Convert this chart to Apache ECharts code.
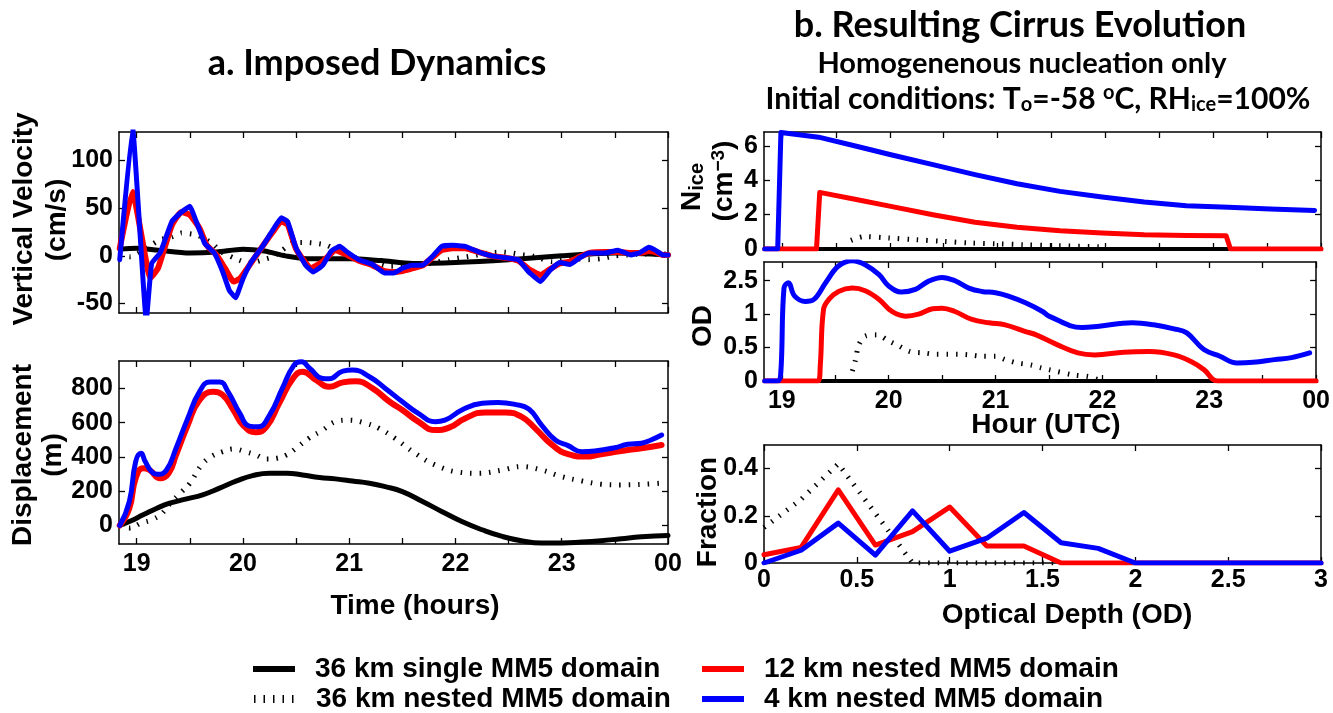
<!DOCTYPE html>
<html><head><meta charset="utf-8">
<script src="https://cdn.jsdelivr.net/npm/echarts@6/dist/echarts.min.js"></script>
<style>html,body{margin:0;padding:0;background:#fff;}#c{width:1333px;height:713px;}</style>
</head><body><div id="c"></div>
<script>
// ---------------- DATA ----------------
const hourTicks = [19, 20, 21, 22, 23, 24];
const hourLabels = ['19', '20', '21', '22', '23', '00'];
const halfHourTicks = [19, 19.5, 20, 20.5, 21, 21.5, 22, 22.5, 23, 23.5, 24];
const velTicks = [-50, 0, 50, 100];
const dispTicks = [0, 200, 400, 600, 800];
const niceTicks = [0, 2, 4, 6];
const odYTicks = [0, 0.5, 1, 1.5];
const odYLabels = ['0', '0.5', '1', '2.5'];
const fracYTicks = [0, 0.2, 0.4];
const fracXTicks = [0, 0.5, 1, 1.5, 2, 2.5, 3];
const fracXLabels = ['0', '0.5', '1', '1.5', '2', '2.5', '3'];

const names = ['36 km single MM5 domain', '36 km nested MM5 domain', '12 km nested MM5 domain', '4 km nested MM5 domain'];

// Vertical velocity (cm/s)
const velBlackT = [18.84,19.0,19.2,19.5,19.75,20.0,20.2,20.4,20.6,21.0,21.3,21.6,22.0,22.5,23.0,23.5,24.0];
const velBlack  = [7,8,6,3,4,7,5,0,-3,-3,-5,-8,-7,-4,0,3,1];
const velDotT = [18.84,18.94,19.13,19.22,19.33,19.42,19.56,19.64,19.72,19.8,19.91,20.0,20.09,20.19,20.28,20.37,20.48,20.59,20.7,20.79,20.94,21.09,21.25,21.38,21.47,21.75,21.94,22.05,22.16,22.31,22.44,22.53,22.63,22.72,22.91,23.0,23.12,23.25,23.37,23.5,23.62,23.75,23.87,24.0];
const velDot  = [0,-1,11,17,20,24,22,18,12,4,-2,-6,-7,-4,-1,6,14,14,13,11,3,-3,-7,-11,-11,-8,-4,-2,0,3,4,3,1,0,-6,-4,-3,-4,-3,0,1,2,2,2];
const velRedT = [18.84,18.96,19.13,19.2,19.33,19.42,19.5,19.59,19.66,19.75,19.83,19.91,19.97,20.06,20.19,20.28,20.36,20.42,20.5,20.64,20.75,20.87,20.98,21.09,21.22,21.33,21.42,21.5,21.6,21.69,21.78,21.87,21.97,22.09,22.22,22.34,22.47,22.59,22.69,22.8,22.89,22.98,23.08,23.17,23.26,23.41,23.53,23.65,23.73,23.82,23.88,23.95,24.0];
const velRed  = [8,67,-23,-13,32,46,43,29,11,1,-13,-27,-24,-10,11,25,36,33,7,-13,-6,6,1,-5,-10,-16,-17,-16,-13,-10,-2,6,8,8,4,0,-2,-5,-14,-20,-14,-8,-6,-1,3,4,4,3,3,5,4,1,1];
const velBlueT = [18.84,18.96,19.09,19.14,19.22,19.33,19.41,19.5,19.56,19.64,19.73,19.81,19.87,19.93,20.0,20.08,20.19,20.28,20.36,20.42,20.5,20.59,20.66,20.75,20.83,20.91,20.98,21.09,21.22,21.33,21.42,21.5,21.59,21.69,21.78,21.87,21.97,22.09,22.22,22.34,22.47,22.59,22.69,22.8,22.89,22.98,23.08,23.17,23.26,23.41,23.53,23.65,23.73,23.82,23.88,23.95,24.0];
const velBlue  = [-4,135,-68,-8,3,36,45,52,36,13,3,-17,-36,-44,-24,-6,11,27,40,36,8,-10,-17,-10,5,10,4,-4,-9,-18,-18,-13,-10,-10,-1,10,11,10,4,0,-2,-4,-17,-27,-15,-7,-9,-2,3,3,6,1,3,9,6,1,1];

// Displacement (m)
const dispBlackT = [18.84,18.93,19.06,19.19,19.31,19.47,19.62,19.78,19.94,20.09,20.25,20.41,20.56,20.72,20.87,21.03,21.19,21.34,21.5,21.69,21.87,22.06,22.25,22.44,22.62,22.81,23.0,23.19,23.37,23.56,23.75,24.0];
const dispBlack  = [0,23,62,101,130,155,179,218,260,291,305,305,295,280,272,260,247,227,198,140,82,23,-25,-64,-89,-102,-102,-97,-89,-77,-66,-58];
const dispDotT = [18.84,18.93,19.04,19.14,19.23,19.33,19.41,19.5,19.61,19.7,19.81,19.91,20.02,20.12,20.22,20.31,20.41,20.5,20.62,20.75,20.87,21.0,21.16,21.28,21.43,21.62,21.81,22.03,22.22,22.44,22.62,22.81,23.0,23.19,23.37,23.56,23.78,23.94];
const dispDot  = [0,-15,14,33,66,140,189,247,353,402,431,447,431,412,388,392,412,451,509,557,606,615,596,567,509,421,353,311,305,324,344,324,285,260,241,237,241,247];
const dispRedT = [18.84,18.93,18.99,19.06,19.12,19.22,19.3,19.37,19.48,19.59,19.72,19.81,19.91,20.0,20.12,20.22,20.34,20.47,20.56,20.69,20.81,20.94,21.06,21.22,21.38,21.5,21.65,21.81,21.94,22.09,22.28,22.47,22.62,22.75,22.91,23.06,23.22,23.37,23.56,23.75,23.94];
const dispRed  = [0,101,276,334,324,276,305,412,586,732,780,761,674,586,544,576,713,858,897,848,809,835,842,800,722,674,606,557,571,625,660,660,635,567,470,416,402,416,435,451,470];
const dispBlueT = [18.84,18.93,18.99,19.04,19.08,19.14,19.2,19.28,19.37,19.48,19.59,19.69,19.78,19.86,19.97,20.06,20.14,20.25,20.37,20.48,20.55,20.63,20.75,20.81,20.94,21.03,21.19,21.34,21.5,21.65,21.81,21.9,22.06,22.25,22.4,22.56,22.69,22.81,22.94,23.06,23.19,23.31,23.5,23.62,23.75,23.84,23.94];
const dispBlue  = [0,140,373,421,373,314,299,324,451,625,780,838,838,780,654,580,576,644,800,936,955,916,858,856,901,907,868,800,722,654,606,615,674,713,718,707,680,586,499,466,431,435,454,474,480,499,528];

// Ice number concentration (cm^-3)
const niceBlackT = [18.84, 24.0];
const niceBlack  = [0, 0];
const niceDotT = [19.64,19.76,19.99,20.24,20.5,20.75,21.0,21.24,21.5,22.0];
const niceDot  = [0.5,0.72,0.64,0.54,0.44,0.35,0.3,0.25,0.2,0.12];
const niceRedT = [18.84,19.32,19.35,19.7,20.01,20.4,20.79,21.18,21.58,21.97,22.36,22.75,23.12,23.16,24.0];
const niceRed  = [0,0,3.29,2.86,2.48,1.99,1.55,1.26,1.06,0.93,0.83,0.79,0.77,0,0];
const niceBlueT = [18.84,18.96,18.99,19.34,19.7,20.01,20.4,20.79,21.18,21.58,21.97,22.36,22.75,23.14,23.53,23.94];
const niceBlue  = [0,0,6.77,6.5,5.96,5.48,4.9,4.32,3.79,3.35,3.02,2.73,2.52,2.42,2.32,2.24];

// Optical depth
const odBlackT = [18.84, 24.0];
const odBlack  = [0, 0];
const odDotT = [19.66,19.69,19.72,19.78,19.89,20.0,20.09,20.2,20.33,20.44,20.56,20.65,20.76,20.87,21.0,21.09,21.2,21.33,21.42,21.5,21.73,21.87,21.97];
const odDot  = [0.15,0.32,0.54,0.67,0.69,0.6,0.53,0.44,0.42,0.4,0.4,0.4,0.39,0.37,0.37,0.32,0.27,0.24,0.2,0.17,0.09,0.065,0.015];
const odRedT = [18.84,19.34,19.36,19.39,19.44,19.53,19.66,19.78,19.91,20.03,20.16,20.28,20.41,20.5,20.62,20.78,20.94,21.09,21.28,21.38,21.58,21.77,21.93,22.2,22.44,22.67,22.83,22.95,23.08,24.0];
const odRed  = [0,0,0.24,1.07,1.22,1.34,1.39,1.35,1.22,1.04,0.97,1.0,1.08,1.09,1.04,0.92,0.87,0.84,0.74,0.69,0.54,0.42,0.39,0.43,0.44,0.39,0.29,0.17,0,0];
const odBlueT = [18.84,18.96,18.99,19.02,19.06,19.12,19.22,19.3,19.41,19.53,19.66,19.78,19.91,20.0,20.12,20.25,20.37,20.5,20.62,20.75,20.87,21.0,21.12,21.28,21.44,21.5,21.81,21.97,22.28,22.48,22.67,22.79,22.95,23.1,23.26,23.41,23.61,23.77,23.94];
const odBlue  = [0,0,0.12,1.39,1.47,1.27,1.19,1.22,1.47,1.72,1.8,1.74,1.59,1.42,1.33,1.37,1.49,1.55,1.5,1.39,1.34,1.32,1.27,1.17,1.04,0.97,0.8,0.82,0.87,0.84,0.78,0.72,0.47,0.37,0.27,0.28,0.32,0.35,0.42];

// Fraction vs optical depth bins
const odBins   = [0,0.2,0.4,0.6,0.8,1.0,1.2,1.4,1.6,1.8,2.0,2.2,2.4,2.6,2.8,3.0];
const fracDot  = [0.15,0.27,0.42,0.21,0,0,0,0,0,null,null,null,null,null,null,null];
const fracRed  = [0.035,0.066,0.31,0.076,0.133,0.237,0.072,0.072,0,0,0,0,0,0,0,0];
const fracBlue = [0,0.054,0.169,0.033,0.221,0.05,0.105,0.214,0.086,0.062,0,0,0,0,0,0];

// ---------------- CHART ----------------
const FF = '"Liberation Sans", Arial, Helvetica, sans-serif';
const TF = 'Lato, "Open Sans", sans-serif';
const zip = (t, v) => t.map((x, i) => [x, v[i]]);
const fmtFrom = (ticks, labels) => v => { const i = ticks.findIndex(t => Math.abs(t - v) < 1e-6); return i >= 0 ? labels[i] : ''; };

const grids = [
  {left: 119, top: 132, width: 549, height: 181},
  {left: 119, top: 361, width: 549, height: 183},
  {left: 764, top: 132, width: 557, height: 117},
  {left: 764, top: 262, width: 557, height: 119},
  {left: 764, top: 445, width: 557, height: 118}
];
const lineAx = {show: true, onZero: false, lineStyle: {color: '#000', width: 1.5}};
const labelStyle = {color: '#000', fontFamily: FF, fontWeight: 'bold', fontSize: 25};

function xAx(g, pos, showLabels, min, max, tickVals, labVals, labFmt) {
  return {
    type: 'value', gridIndex: g, position: pos, min: min, max: max,
    axisLine: lineAx,
    axisTick: {show: true, inside: true, length: 6, lineStyle: {color: '#000', width: 1.3}, customValues: tickVals},
    axisLabel: Object.assign({show: showLabels, margin: 8, customValues: labVals, formatter: labFmt}, labelStyle),
    splitLine: {show: false}
  };
}
function yAx(g, pos, showLabels, min, max, tickVals, labFmt) {
  return {
    type: 'value', gridIndex: g, position: pos, min: min, max: max,
    axisLine: lineAx,
    axisTick: {show: true, inside: true, length: 6, lineStyle: {color: '#000', width: 1.3}, customValues: tickVals},
    axisLabel: Object.assign({show: showLabels, margin: 6, customValues: tickVals, formatter: labFmt}, labelStyle),
    splitLine: {show: false}
  };
}
const hourFmt = fmtFrom(hourTicks, hourLabels);
const hMin = 18.833, hMax = 24;
const fracFmt = fmtFrom(fracXTicks, fracXLabels);
const xAxes = [
  xAx(0, 'bottom', false, hMin, hMax, halfHourTicks, hourTicks, hourFmt),
  xAx(1, 'bottom', true, hMin, hMax, halfHourTicks, hourTicks, hourFmt),
  xAx(2, 'bottom', false, hMin, hMax, halfHourTicks, hourTicks, hourFmt),
  xAx(3, 'bottom', true, hMin, hMax, halfHourTicks, hourTicks, hourFmt),
  xAx(4, 'bottom', true, 0, 3, fracXTicks, fracXTicks, fracFmt),
  xAx(0, 'top', false, hMin, hMax, halfHourTicks, hourTicks, hourFmt),
  xAx(1, 'top', false, hMin, hMax, halfHourTicks, hourTicks, hourFmt),
  xAx(2, 'top', false, hMin, hMax, halfHourTicks, hourTicks, hourFmt),
  xAx(3, 'top', false, hMin, hMax, halfHourTicks, hourTicks, hourFmt),
  xAx(4, 'top', false, 0, 3, fracXTicks, fracXTicks, fracFmt)
];
xAxes[4].axisLabel.margin = 5;
const numFmt = v => String(Math.round(v * 1000) / 1000);
const yDefs = [
  [-60, 130, velTicks, numFmt],
  [-108, 960, dispTicks, numFmt],
  [0, 6.8, niceTicks, numFmt],
  [0, 1.78, odYTicks, fmtFrom(odYTicks, odYLabels)],
  [0, 0.5, fracYTicks, numFmt]
];
const yAxes = yDefs.map((d, i) => yAx(i, 'left', true, d[0], d[1], d[2], d[3]))
  .concat(yDefs.map((d, i) => yAx(i, 'right', false, d[0], d[1], d[2], d[3])));

const COL = ['#000000', '#000000', '#ff0000', '#0000ff'];
function ser(g, k, data, width, smooth) {
  const dotted = k === 1;
  return {
    type: 'line', name: names[k], xAxisIndex: g, yAxisIndex: g, data: data,
    symbol: 'none', smooth: smooth, animation: false, connectNulls: false,
    itemStyle: {color: COL[k]},
    lineStyle: dotted ? {color: '#000', width: 5, type: [1.5, 8], cap: 'butt'} :
                        {color: COL[k], width: width, join: 'round', cap: 'round'},
    z: 2 + k
  };
}
const series = [
  ser(0, 0, zip(velBlackT, velBlack), 5, 0.3),
  ser(0, 1, zip(velDotT, velDot), 5, 0.2),
  ser(0, 2, zip(velRedT, velRed), 6, 0.15),
  ser(0, 3, zip(velBlueT, velBlue), 5, 0.1),
  ser(1, 0, zip(dispBlackT, dispBlack), 5, 0.5),
  ser(1, 1, zip(dispDotT, dispDot), 5, 0.4),
  ser(1, 2, zip(dispRedT, dispRed), 6, 0.5),
  ser(1, 3, zip(dispBlueT, dispBlue), 5, 0.5),
  ser(2, 0, zip(niceBlackT, niceBlack), 4, false),
  ser(2, 1, zip(niceDotT, niceDot), 4, 0.3),
  ser(2, 2, zip(niceRedT, niceRed), 5, false),
  ser(2, 3, zip(niceBlueT, niceBlue), 5, false),
  ser(3, 0, zip(odBlackT, odBlack), 4, false),
  ser(3, 1, zip(odDotT, odDot), 4, 0.3),
  ser(3, 2, zip(odRedT, odRed), 5, 0.4),
  ser(3, 3, zip(odBlueT, odBlue), 5, 0.4),
  ser(4, 1, zip(odBins, fracDot), 4, false),
  ser(4, 2, zip(odBins, fracRed), 5, false),
  ser(4, 3, zip(odBins, fracBlue), 5, false)
];

function leg(name, left, top, ls) {
  return {
    data: [name], left: left, top: top, orient: 'horizontal', selectedMode: false,
    itemWidth: 42, itemHeight: 14, padding: 0,
    itemStyle: {opacity: 0, borderWidth: 0},
    lineStyle: ls,
    textStyle: {color: '#000', fontFamily: FF, fontWeight: 'bold', fontSize: 28, padding: [0, 0, 0, 15]}
  };
}
const solidLeg = {width: 6, type: 'solid', cap: 'butt'};
const legends = [
  leg(names[0], 250, 655, solidLeg), leg(names[2], 699, 655, solidLeg),
  leg(names[1], 250, 685, {width: 8, type: [1.5, 8], cap: 'butt'}), leg(names[3], 699, 685, solidLeg)
];

function T(x, y, text, size, opt) {
  opt = opt || {};
  return {
    type: 'text', x: x, y: y, rotation: opt.rot || 0, silent: true,
    style: {
      text: text, fontSize: size, fontWeight: 'bold', fontFamily: opt.ff || FF, fill: '#000',
      align: 'center', verticalAlign: 'middle', rich: opt.rich, lineHeight: opt.lh
    }
  };
}
const R = Math.PI / 2;
const subRich = (fs, ff) => ({
  sub: {fontSize: fs, fontWeight: 'bold', fontFamily: ff, lineHeight: 10, verticalAlign: 'bottom'},
  sup: {fontSize: fs, fontWeight: 'bold', fontFamily: ff, lineHeight: 10, verticalAlign: 'top'}
});
const graphic = [
  T(377, 63, 'a. Imposed Dynamics', 36, {ff: TF}),
  T(1020, 25, 'b. Resulting Cirrus Evolution', 36, {ff: TF}),
  T(1022, 64, 'Homogenenous nucleation only', 29, {ff: TF}),
  T(1038, 99, 'Initial conditions: T{sub|o}=-58 {sup|o}C, RH{sub|ice}=100%', 30, {ff: TF, lh: 32, rich: subRich(20, TF)}),
  T(24, 219, 'Vertical Velocity', 28, {rot: R}),
  T(57, 220, '(cm/s)', 28, {rot: R}),
  T(23, 455, 'Displacement', 28, {rot: R}),
  T(53, 455, '(m)', 28, {rot: R}),
  T(692, 187, 'N{sub|ice}', 28, {rot: R, lh: 30, rich: subRich(20, FF)}),
  T(724, 181, '(cm{sup|\u22123})', 28, {rot: R, lh: 30, rich: subRich(19, FF)}),
  T(703, 326, 'OD', 28, {rot: R}),
  T(708, 512, 'Fraction', 28, {rot: R}),
  T(415, 606, 'Time (hours)', 28),
  T(1046, 425, 'Hour (UTC)', 28),
  T(1067, 615, 'Optical Depth (OD)', 28)
];

const chart = echarts.init(document.getElementById('c'), null, {renderer: 'canvas'});
chart.setOption({
  backgroundColor: '#ffffff',
  animation: false,
  grid: grids,
  xAxis: xAxes,
  yAxis: yAxes,
  legend: legends,
  series: series,
  graphic: graphic
});
</script></body></html>
